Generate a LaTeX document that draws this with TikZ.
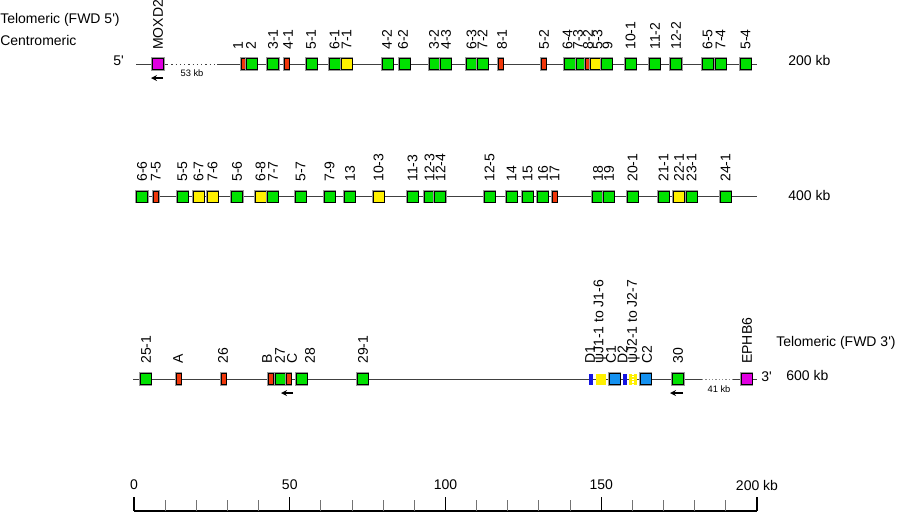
\documentclass[tikz,border=0pt]{standalone}
\usepackage{fontspec}
\setmainfont{Liberation Sans}
\usetikzlibrary{arrows}
\definecolor{genegreen}{RGB}{0,225,0}
\definecolor{genered}{RGB}{240,55,10}
\definecolor{geneyellow}{RGB}{255,240,0}
\definecolor{geneblue}{RGB}{20,145,240}
\definecolor{genedblue}{RGB}{20,20,225}
\definecolor{genemagenta}{RGB}{225,0,225}
\tikzstyle{gene} = [draw=black, line width=0.5pt, inner sep=0pt, minimum width=8.25pt, minimum height=8.25pt, preaction={draw=black!40, line width=1.9pt}]
\tikzstyle{grn} = [gene, fill=genegreen]
\tikzstyle{rd} = [gene, fill=genered, minimum width=3.75pt]
\tikzstyle{yel} = [gene, fill=geneyellow]
\tikzstyle{cbl} = [gene, fill=geneblue]
\tikzstyle{mag} = [gene, fill=genemagenta]
\tikzstyle{dbl} = [fill=genedblue, inner sep=0pt, minimum width=3pt, minimum height=8.25pt]
\tikzstyle{jyel} = [fill=geneyellow, inner sep=0pt, minimum height=8.25pt]
\tikzstyle{lbl} = [rotate=90, anchor=west, inner sep=0pt, font=\fontsize{10.5}{12}\selectfont]
\tikzstyle{txt} = [inner sep=0pt, font=\fontsize{10.5}{12}\selectfont]
\tikzstyle{kbtext} = [inner sep=0pt, font=\fontsize{7}{8}\selectfont]
\tikzstyle{rowline} = [draw=black!75, line width=0.7pt]
\tikzstyle{arrow} = [line width=1pt,->,>=stealth]

\begin{document}
\begin{tikzpicture}[x=0.75pt, y=-0.75pt]
  \useasboundingbox (0,0) rectangle (900,512);

  % row ends
  \coordinate (a0) at (136,64);
  \coordinate (adots) at (167,64);
  \coordinate (aresume) at (217,64);
  \coordinate (aend) at (757,64);
  \coordinate (b0) at (135,196.5);
  \coordinate (bend) at (757,196.5);
  \coordinate (c0) at (133,379);
  \coordinate (cdots) at (702,379);
  \coordinate (cresume) at (733,379);
  \coordinate (cend) at (757,379);

  % the three lines
  \draw[rowline] (a0) -- (adots);
  \draw[rowline, dash pattern=on 1pt off 2.2pt] (adots) -- (aresume);
  \draw[rowline] (aresume) -- (aend);
  \draw[rowline] (b0) -- (bend);
  \draw[rowline] (c0) -- (cdots);
  \draw[rowline, draw=black!45, dash pattern=on 1pt off 1.5pt] (cdots) -- (cresume);
  \draw[rowline] (cresume) -- (cend);

  % first row
  \foreach \x/\lx/\t/\s in {158/158/MOXD2/mag, 243.5/238/1/rd, 251.5/251/2/grn, 273/273/3-1/grn, 286.5/288/4-1/rd,
      311.5/311/5-1/grn, 334.5/334.5/6-1/grn, 346.5/346.5/7-1/yel, 387.5/387/4-2/grn, 404.5/403/6-2/grn,
      434.5/434/3-2/grn, 445.5/446/4-3/grn, 471.5/471.5/6-3/grn, 482.5/482.5/7-2/grn, 500.5/502/8-1/rd,
      543.5/544/5-2/rd, 569.5/567.5/6-4/grn, 581.5/578/7-3/grn, 588/588/8-2/rd, 596/597.5/5-3/yel,
      606.5/607.5/9/grn, 630.5/630.5/10-1/grn, 654.5/655/11-2/grn, 676/676/12-2/grn, 707.5/707.5/6-5/grn,
      720.5/720.5/7-4/grn, 745.5/745.5/5-4/grn}
  {
    \node[\s] (a\t) at (\x,64) {};
    \node[lbl] (la\t) at (\lx,50) {\t};
  }

  % second row
  \foreach \x/\lx/\t/\s in {142/142/6-6/grn, 156/156/7-5/rd, 182.5/182.5/5-5/grn, 198.5/198.5/6-7/yel, 212.5/212.5/7-6/yel,
      237/237/5-6/grn, 260.5/260.5/6-8/yel, 272.5/273/7-7/grn, 300.5/300.5/5-7/grn, 329.5/329.5/7-9/grn,
      349.5/350/13/grn, 378.5/378.5/10-3/yel, 412.5/412.5/11-3/grn, 429.5/429.5/12-3/grn, 440/440.5/12-4/grn,
      489.5/489.5/12-5/grn, 511.5/511.5/14/grn, 527.5/527.5/15/grn, 542.5/543/16/grn, 554.5/554.5/17/rd,
      598/598/18/grn, 608.5/609/19/grn, 632.5/632.5/20-1/grn, 663.5/663.5/21-1/grn, 678.5/679/22-1/yel,
      691.5/691.5/23-1/grn, 725.5/725.5/24-1/grn}
  {
    \node[\s] (b\t) at (\x,196.5) {};
    \node[lbl] (lb\t) at (\lx,182) {\t};
  }

  % third row
  \foreach \x/\lx/\t/\s in {145.5/146/25-1/grn, 178.5/178/A/rd, 223.5/223/26/rd, 270.5/267/B/rd, 280.5/280/27/grn,
      288.5/292/C/rd, 301.5/310/28/grn, 362.5/363/29-1/grn, 614.5/611/C1/cbl, 645.5/647/C2/cbl,
      678/678/30/grn, 746.5/747/EPHB6/mag}
  {
    \node[\s] (c\t) at (\x,379) {};
    \node[lbl] (lc\t) at (\lx,364) {\t};
  }
  \node[dbl] (cD1) at (591,379) {};
  \node[dbl] (cD2) at (625,379) {};
  \node[jyel, minimum width=7.5pt] (cJ1) at (601,379) {};
  \node[jyel, minimum width=6pt] (cJ2) at (633,379) {};
  \draw[white, line width=0.8pt, dash pattern=on 1pt off 1pt] (cJ2.north) -- (cJ2.south);
  \node[lbl] (lcD1) at (590,364) {D1};
  \node[lbl] (lcJ1) at (600,364) {ψJ1-1 to J1-6};
  \node[lbl] (lcD2) at (622.5,364) {D2};
  \node[lbl] (lcJ2) at (633.5,364) {ψJ2-1 to J2-7};

  % direction arrows
  \coordinate (arrA) at (163,78);
  \coordinate (arrB) at (151,78);
  \coordinate (arrC) at (293,393);
  \coordinate (arrD) at (281,393);
  \coordinate (arrE) at (683,393);
  \coordinate (arrF) at (670,393);
  \draw[arrow] (arrA) -- (arrB);
  \draw[arrow] (arrC) -- (arrD);
  \draw[arrow] (arrE) -- (arrF);

  % gaps
  \node[kbtext] (gap53) at (192,73) {53 kb};
  \node[kbtext] (gap41) at (719,389) {41 kb};

  % side texts
  \node[txt, anchor=west] (telo5) at (0,20) {Telomeric (FWD 5\textquotesingle)};
  \node[txt, anchor=west] (centro) at (0,40) {Centromeric};
  \node[txt, anchor=east] (end5) at (124,61) {5\textquotesingle};
  \node[txt, anchor=west] (kb200) at (788,60) {200 kb};
  \node[txt, anchor=west] (kb400) at (788,195) {400 kb};
  \node[txt, anchor=west] (telo3) at (776,343) {Telomeric (FWD 3\textquotesingle)};
  \node[txt, anchor=west] (end3) at (761,377) {3\textquotesingle};
  \node[txt, anchor=west] (kb600) at (786,375) {600 kb};

  % scale
  \coordinate (ax0) at (134,511);
  \coordinate (axend) at (757,511);
  \draw[black, line width=0.8pt] (ax0) -- (axend);
  \foreach \k in {10,20,...,190}
    \draw[black!55, line width=0.8pt] (134+\k*3.115,500) -- (134+\k*3.115,511);
  \foreach \k in {0,50,100,150,200}
    \draw[black, line width=0.8pt] (134+\k*3.115,497) -- (134+\k*3.115,511);
  \foreach \k in {0,50,100,150}
    \node[txt] (tick\k) at (134+\k*3.115,485) {\k};
  \node[txt] (tick200) at (757,485) {200 kb};
\end{tikzpicture}
\end{document}
